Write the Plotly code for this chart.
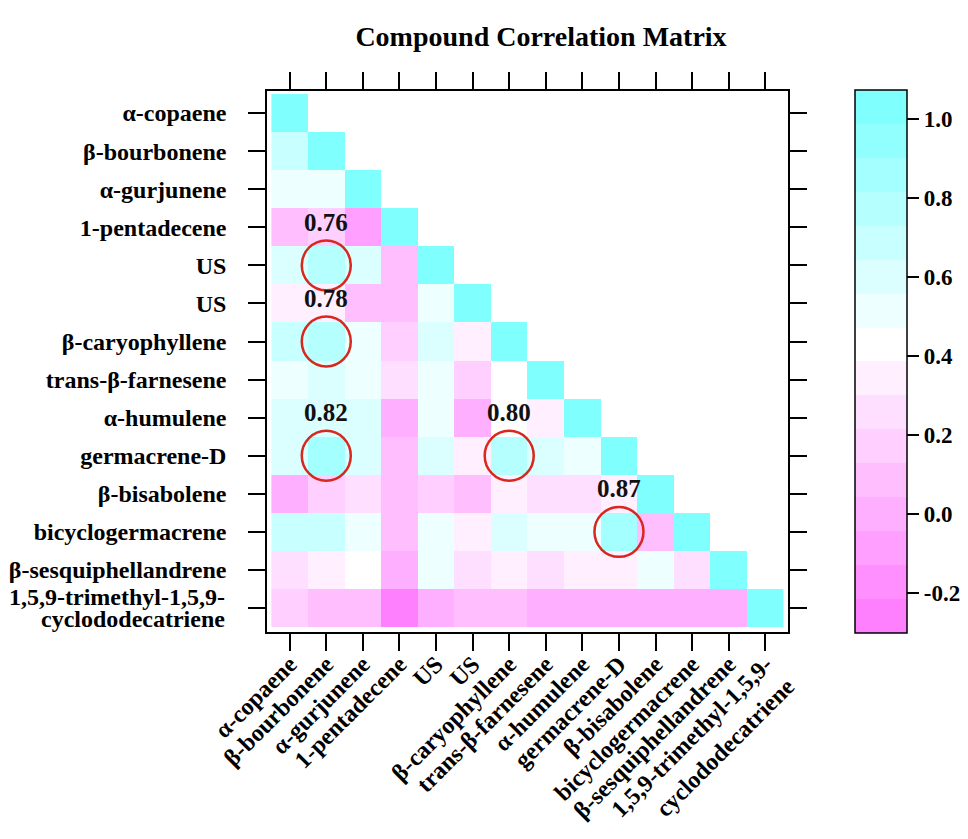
import plotly.graph_objects as go
import colorsys

# ---------------- data ----------------
compounds = [
    "α-copaene", "β-bourbonene", "α-gurjunene", "1-pentadecene", "US", "US",
    "β-caryophyllene", "trans-β-farnesene", "α-humulene", "germacrene-D",
    "β-bisabolene", "bicyclogermacrene", "β-sesquiphellandrene",
    "1,5,9-trimethyl-1,5,9-<br>cyclododecatriene",
]
last_label_lines = ["1,5,9-trimethyl-1,5,9-", "cyclododecatriene"]

# lower-triangle correlation values (row i has i+1 entries)
corr_lower = [
    [1.0],
    [0.70, 1.0],
    [0.48, 0.52, 1.0],
    [0.10, 0.15, -0.08, 1.0],
    [0.58, 0.76, 0.60, 0.10, 1.0],
    [0.34, 0.32, 0.10, 0.10, 0.50, 1.0],
    [0.68, 0.78, 0.54, 0.18, 0.58, 0.35, 1.0],
    [0.48, 0.60, 0.48, 0.28, 0.48, 0.17, 0.45, 1.0],
    [0.58, 0.58, 0.56, 0.02, 0.52, 0.02, 0.40, 0.35, 1.0],
    [0.62, 0.82, 0.60, 0.10, 0.60, 0.33, 0.80, 0.60, 0.52, 1.0],
    [0.00, 0.20, 0.30, 0.08, 0.18, 0.10, 0.35, 0.26, 0.27, 0.32, 1.0],
    [0.68, 0.68, 0.50, 0.08, 0.50, 0.38, 0.62, 0.52, 0.52, 0.87, 0.12, 1.0],
    [0.25, 0.38, 0.45, 0.00, 0.48, 0.25, 0.35, 0.25, 0.36, 0.36, 0.50, 0.30, 1.0],
    [0.15, 0.05, 0.12, -0.22, 0.03, 0.05, 0.05, -0.03, -0.03, -0.03, -0.01, 0.00, 0.02, 1.0],
]

highlight_rows = [4, 6, 9, 9, 11]
highlight_cols = [1, 1, 1, 6, 9]
highlight_labels = ["0.76", "0.78", "0.82", "0.80", "0.87"]

cbar_ticks = [-0.2, 0.0, 0.2, 0.4, 0.6, 0.8, 1.0]
cbar_ticktext = ["-0.2", "0.0", "0.2", "0.4", "0.6", "0.8", "1.0"]

Z_MIN, Z_MAX = -0.301, 1.073
N_BANDS = 16
N_MAG = 8  # magenta bands below white band

# ---------------- build ----------------
n = len(compounds)
z = [[None] * n for _ in range(n)]
for i, row in enumerate(corr_lower):
    for j, v in enumerate(row):
        z[i][j] = v


def hsv_hex(h, s, v=1.0):
    r, g, b = colorsys.hsv_to_rgb(h, s, v)
    return "#%02x%02x%02x" % (round(r * 255), round(g * 255), round(b * 255))


band_colors = []
for k in range(N_BANDS):
    if k < N_MAG:
        band_colors.append(hsv_hex(300 / 360, 0.5 * (N_MAG - k) / N_MAG))
    elif k == N_MAG:
        band_colors.append("#ffffff")
    else:
        band_colors.append(hsv_hex(180 / 360, 0.5 * (k - N_MAG) / (N_BANDS - 1 - N_MAG)))

colorscale = []
for k, c in enumerate(band_colors):
    colorscale.append([k / N_BANDS, c])
    colorscale.append([(k + 1) / N_BANDS, c])

FONT = "Liberation Serif, Times New Roman, serif"
LABEL_FONT = dict(family=FONT, size=24, color="black", weight="bold")

fig = go.Figure()
fig.add_trace(go.Heatmap(
    z=z, x=list(range(n)), y=list(range(n)),
    zmin=Z_MIN, zmax=Z_MAX, colorscale=colorscale,
    hoverongaps=False,
    colorbar=dict(
        x=1.1286, xanchor="left", y=-0.002, yanchor="bottom",
        lenmode="pixels", len=543, thickness=52, ypad=0, xpad=0,
        outlinewidth=1.5, outlinecolor="black",
        tickvals=cbar_ticks, ticktext=cbar_ticktext,
        ticks="outside", ticklen=12, tickwidth=1.5, tickcolor="black",
        tickfont=dict(family=FONT, size=23, color="black", weight="bold"),
    ),
))

for r, c, lab in zip(highlight_rows, highlight_cols, highlight_labels):
    fig.add_shape(type="circle", xref="x", yref="y",
                  x0=c - 0.67, x1=c + 0.67, y0=r - 0.655, y1=r + 0.655,
                  line=dict(color="#d8281e", width=2.5))
    fig.add_annotation(x=c, y=r - 1, xref="x", yref="y", text=lab,
                       showarrow=False, yshift=5,
                       font=dict(family=FONT, size=25, color="#111111", weight="bold"))

# last y label drawn as two tightly spaced lines
y_ticktext = compounds[:-1] + [""]
for k, line in enumerate(last_label_lines):
    fig.add_annotation(x=0, xref="paper", y=n - 1, yref="y", text=line,
                       showarrow=False, xanchor="right", yanchor="middle",
                       xshift=-40, yshift=11 - 22 * k, font=LABEL_FONT)

axis_common = dict(
    tickvals=list(range(n)),
    ticks="outside", ticklen=17, tickwidth=1.5, tickcolor="black",
    mirror="allticks", showline=True, linewidth=1.5, linecolor="black",
    showgrid=False, zeroline=False, automargin=False,
    tickfont=LABEL_FONT,
)

W, H, OFF = 960, 831, 8  # page body has an 8px margin
fig.update_layout(
    width=W, height=H, autosize=False,
    margin=dict(l=267 - OFF, r=W - (788 - OFF), t=91 - OFF, b=H - (632 - OFF),
                autoexpand=False),
    paper_bgcolor="white", plot_bgcolor="white",
    title=dict(text="Compound Correlation Matrix", x=(541 - OFF) / W, xanchor="center",
               y=1 - (36 - OFF) / H, yanchor="middle",
               font=dict(family=FONT, size=28, color="black", weight="bold")),
    xaxis=dict(range=[-0.62, 13.62], tickangle=-45, ticktext=compounds,
               ticklabelstandoff=-10, **axis_common),
    yaxis=dict(range=[13.63, -0.58], ticktext=y_ticktext,
               ticklabelstandoff=17, **axis_common),
)

fig.write_html("out.html")
